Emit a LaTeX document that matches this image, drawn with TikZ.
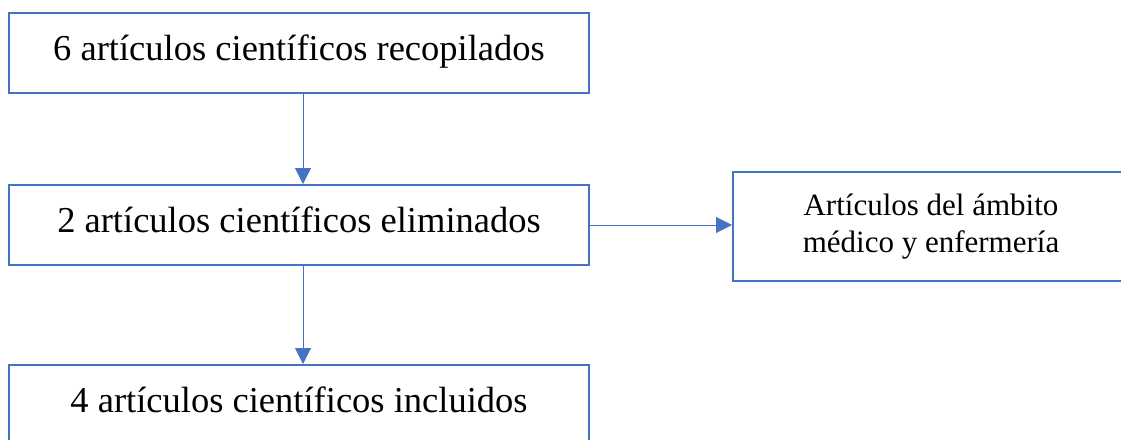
\documentclass[tikz,border=0pt]{standalone}
\usepackage{fontspec}
\setmainfont{Liberation Serif}
\usetikzlibrary{arrows.meta}
\definecolor{boxblue}{HTML}{4472C4}
\tikzset{
  flowbox/.style={draw=boxblue, line width=2pt, minimum width=580pt, minimum height=80pt,
    inner sep=0pt, font=\fontsize{36.5}{43}\selectfont, text height=25pt, text depth=10pt},
  notebox/.style={draw=boxblue, line width=2pt, minimum width=396pt, minimum height=109pt,
    inner sep=0pt, align=center, font=\fontsize{31}{37}\selectfont},
  flowarrow/.style={draw=boxblue, line width=1pt, -{Triangle[width=16pt,length=16pt]}}
}
\begin{document}
\begin{tikzpicture}[x=1pt, y=1pt]
      \useasboundingbox (0,0) rectangle (1121,-439);
      \clip (0,0) rectangle (1121,-439);
      \draw
        (299,-52.5) node[flowbox] (recop){6 artículos científicos recopilados}
        (299,-225) node[flowbox] (elim){2 artículos científicos eliminados}
        (299,-405) node[flowbox] (incl){4 artículos científicos incluidos}
        (931,-226.5) node[notebox] (ambito){Artículos del ámbito\\médico y enfermería};
      \begin{scope}[flowarrow]
        \draw ([xshift=4pt]recop.south) to[shorten >=13pt] ([xshift=4pt]elim.north);
        \draw ([xshift=4pt]elim.south) to[shorten >=22pt] ([xshift=4pt]incl.north);
        \draw (elim.east) to (elim.east -| ambito.west);
      \end{scope}
    \end{tikzpicture}
\end{document}
